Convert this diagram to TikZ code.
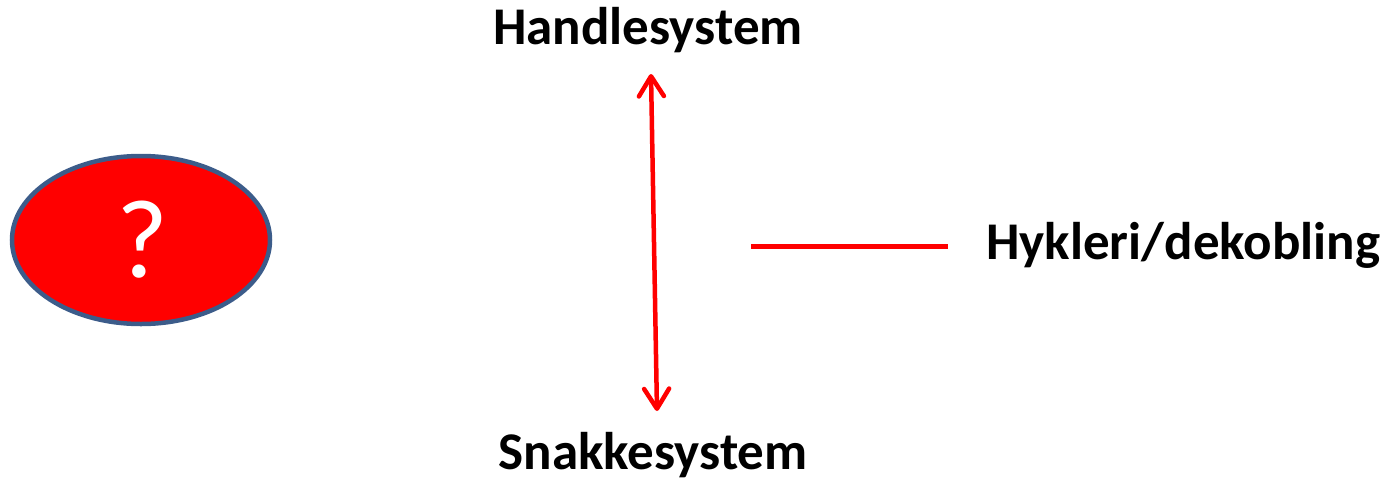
\documentclass[tikz,border=0pt]{standalone}
\usepackage{fontspec}
\setmainfont{Carlito}
\usetikzlibrary{arrows.meta,shapes.geometric}
\definecolor{outline}{RGB}{60,92,138}
\definecolor{vivid}{RGB}{255,0,0}
\tikzset{
  heading/.style={font=\fontsize{53}{60}\selectfont\bfseries, text=black, inner sep=0pt, anchor=base},
  redline/.style={draw=vivid, line width=5pt},
  twoway/.style={redline, line width=4.5pt, {Straight Barb[length=20pt,width=25pt,round]}-{Straight Barb[length=20pt,width=25pt,round]}},
}
\begin{document}
\begin{tikzpicture}[x=1pt,y=-1pt]
  \useasboundingbox (0,0) rectangle (1387,483);
  % the unknown element
  \node (q) [ellipse, minimum width=258pt, minimum height=168pt, inner sep=0pt,
             fill=vivid, draw=outline, line width=4.5pt] at (141,240) {};
  \node (qm) [anchor=base, inner sep=0pt, text=white,
              font=\fontsize{112}{120}\selectfont] at (142,277) {?};
  % the two systems
  \node (hs) [heading] at (648,44) {Handlesystem};
  \node (ss) [heading] at (653,469) {Snakkesystem};
  \node (hd) [heading, anchor=base west] at (986,259) {Hykleri/dekobling};
  % connectors
  \coordinate (up) at (651,74);
  \coordinate (down) at (657,411);
  \draw[twoway] (up) -- (down);
  \coordinate (ls) at (751,246);
  \coordinate (le) at (948,246);
  \draw[redline] (ls) -- (le);
\end{tikzpicture}
\end{document}
